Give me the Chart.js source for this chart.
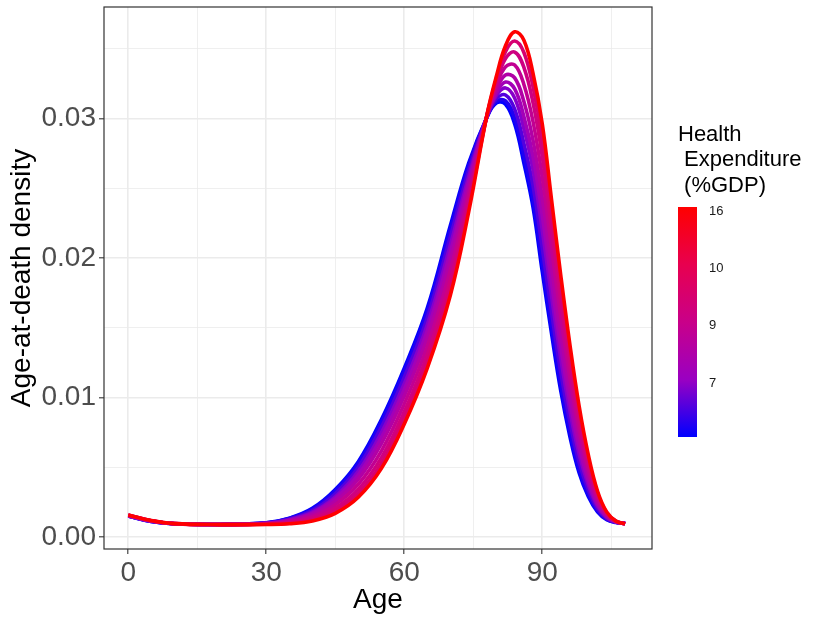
<!DOCTYPE html>
<html>
<head>
<meta charset="utf-8">
<script src="https://cdn.jsdelivr.net/npm/chart.js@4.4.1/dist/chart.umd.min.js"></script>
<style>
  html, body { margin: 0; padding: 0; background: #ffffff; }
  #wrap { width: 830px; height: 625px; position: relative; }
</style>
</head>
<body>
<div id="wrap"><canvas id="densityChart"></canvas></div>
<script>
// --- data ---
const ages = [0, 5, 10, 20, 30, 35, 40, 45, 50, 55, 60, 65, 70, 74, 78, 80, 82, 84, 86, 88, 90, 92, 94, 96, 98, 100, 102, 104, 106, 108];

// health expenditure (%GDP) of each curve, low -> high
const healthExp = [5.6, 5.9, 6.4, 6.9, 7.5, 8.1, 8.8, 9.2, 9.5, 16.3];

const density01 = [.00150, .00112, .00095, .00090, .00102, .00135, .00205, .00340, .00540, .00840, .01210, .01640, .02230, .02680, .03010, .03110, .03100, .02960, .02680, .02360, .01900, .01460, .01050, .00720, .00460, .00290, .00180, .00124, .00104, .00098];
const density02 = [.00150, .00112, .00095, .00090, .00101, .00133, .00199, .00329, .00525, .00820, .01186, .01614, .02200, .02659, .03011, .03121, .03125, .03000, .02733, .02418, .01964, .01518, .01100, .00760, .00489, .00308, .00189, .00127, .00105, .00098];
const density03 = [.00151, .00113, .00095, .00090, .00100, .00128, .00189, .00310, .00500, .00786, .01146, .01571, .02150, .02624, .03013, .03140, .03167, .03066, .02821, .02514, .02070, .01614, .01183, .00826, .00537, .00338, .00204, .00133, .00106, .00097];
const density04 = [.00152, .00114, .00095, .00090, .00099, .00124, .00178, .00288, .00470, .00745, .01098, .01520, .02090, .02582, .03016, .03163, .03218, .03145, .02926, .02629, .02197, .01729, .01282, .00905, .00594, .00374, .00222, .00140, .00107, .00097];
const density05 = [.00153, .00114, .00095, .00090, .00097, .00119, .00170, .00275, .00445, .00711, .01058, .01477, .02040, .02547, .03018, .03182, .03260, .03211, .03014, .02725, .02303, .01825, .01365, .00971, .00642, .00404, .00237, .00145, .00108, .00096];
const density06 = [.00154, .00115, .00096, .00090, .00096, .00115, .00160, .00255, .00415, .00668, .01010, .01425, .01980, .02505, .03020, .03205, .03310, .03290, .03120, .02840, .02430, .01940, .01465, .01050, .00700, .00440, .00255, .00152, .00110, .00096];
const density07 = [.00155, .00116, .00096, .00089, .00094, .00109, .00147, .00232, .00378, .00616, .00954, .01365, .01910, .02456, .03023, .03232, .03369, .03382, .03243, .02974, .02578, .02074, .01581, .01142, .00767, .00482, .00276, .00160, .00111, .00095];
const density08 = [.00156, .00117, .00096, .00089, .00093, .00104, .00134, .00208, .00341, .00567, .00898, .01305, .01840, .02407, .03026, .03258, .03428, .03475, .03366, .03109, .02727, .02209, .01697, .01235, .00834, .00524, .00297, .00168, .00113, .00095];
const density09 = [.00157, .00117, .00096, .00089, .00091, .00099, .00124, .00188, .00310, .00525, .00850, .01253, .01780, .02365, .03028, .03281, .03478, .03554, .03472, .03224, .02854, .02324, .01797, .01314, .00892, .00560, .00315, .00174, .00114, .00094];
const density10 = [.00158, .00118, .00096, .00089, .00090, .00095, .00115, .00170, .00285, .00490, .00810, .01210, .01730, .02330, .03030, .03300, .03520, .03620, .03560, .03320, .02960, .02420, .01880, .01380, .00940, .00590, .00330, .00180, .00115, .00094];

const curves = [density01, density02, density03, density04, density05, density06, density07, density08, density09, density10];

// colour bar
const legendTitle = ['Health', ' Expenditure', ' (%GDP)'];
const legendBreaks = [7, 9, 10, 16];

// --- styling ---
const FONT = '"Liberation Sans", Arial, Helvetica, sans-serif';
Chart.defaults.font.family = FONT;

// blue -> red (Lab-like mid tones)
const gradientStops = [[0, [0, 0, 255]], [0.25, [154, 0, 194]], [0.5, [201, 0, 137]], [0.75, [232, 0, 79]], [1, [255, 0, 0]]];
// where each value sits on the colour bar (non-linear scale)
const barKnots = [[5.6, 0], [7, 0.235], [9, 0.484], [10, 0.733], [16, 0.98], [16.3, 1]];

function expToFraction(v) {
    for (let i = 1; i < barKnots.length; i++) {
        const [v0, p0] = barKnots[i - 1];
        const [v1, p1] = barKnots[i];
        if (v <= v1) return p0 + (p1 - p0) * Math.max(0, (v - v0) / (v1 - v0));
    }
    return 1;
}

function colourAt(p) {
    for (let i = 1; i < gradientStops.length; i++) {
        const [p0, c0] = gradientStops[i - 1];
        const [p1, c1] = gradientStops[i];
        if (p <= p1) {
            const t = (p - p0) / (p1 - p0);
            const c = c0.map((v, k) => Math.round(v + (c1[k] - v) * t));
            return `rgb(${c[0]},${c[1]},${c[2]})`;
        }
    }
    return 'rgb(255,0,0)';
}

// highest expenditure first so that it is painted on top
const datasets = curves.map((vals, i) => ({
    label: String(healthExp[i]),
    data: ages.map((a, k) => ({ x: a, y: vals[k] })),
    borderColor: colourAt(expToFraction(healthExp[i])),
    borderWidth: 3.6,
    pointRadius: 0,
    fill: false,
    tension: 0.4
})).reverse();

const panelBorder = {
    id: 'panelBorder',
    afterDatasetsDraw(chart) {
        const { ctx, chartArea: a } = chart;
        ctx.save();
        ctx.strokeStyle = '#333333';
        ctx.lineWidth = 1.2;
        ctx.strokeRect(a.left, a.top, a.right - a.left, a.bottom - a.top);
        ctx.restore();
    }
};

const colourBar = {
    id: 'colourBar',
    afterDraw(chart) {
        const c = chart.ctx;
        c.save();
        c.fillStyle = '#000000';
        c.font = `22px ${FONT}`;
        c.textAlign = 'left';
        c.textBaseline = 'alphabetic';
        legendTitle.forEach((line, i) => c.fillText(line, 678, 141 + i * 25.3));

        const bx = 678, bw = 19, top = 207, bottom = 437;
        const g = c.createLinearGradient(0, bottom, 0, top);
        gradientStops.forEach(([p, col]) => g.addColorStop(p, `rgb(${col.join(',')})`));
        c.fillStyle = g;
        c.fillRect(bx, top, bw, bottom - top);

        c.fillStyle = '#1a1a1a';
        c.font = `13px ${FONT}`;
        c.textBaseline = 'middle';
        legendBreaks.forEach(v => {
            const y = bottom - expToFraction(v) * (bottom - top);
            c.fillText(String(v), 709, y);
        });
        c.restore();
    }
};

const isMajorX = v => Math.round(v) % 30 === 0;
const isMajorY = v => Math.round(v * 1000) % 10 === 0;

new Chart(document.getElementById('densityChart'), {
    type: 'line',
    data: { datasets },
    plugins: [panelBorder, colourBar],
    options: {
        responsive: true,
        maintainAspectRatio: false,
        animation: false,
        layout: { padding: { left: 0, right: 178, top: 7, bottom: 0 } },
        plugins: { legend: { display: false }, tooltip: { enabled: false } },
        scales: {
            x: {
                type: 'linear',
                min: -5.28,
                max: 113.85,
                afterFit: s => { s.height = 76; s.paddingLeft = 0; s.paddingRight = 0; },
                border: { display: false },
                grid: {
                    color: '#EBEBEB',
                    lineWidth: ctx => isMajorX(ctx.tick.value) ? 1.6 : 0.8,
                    tickColor: ctx => isMajorX(ctx.tick.value) ? '#333333' : 'rgba(0,0,0,0)',
                    tickLength: 5,
                    tickWidth: 1.1
                },
                ticks: {
                    stepSize: 15,
                    includeBounds: false,
                    autoSkip: false,
                    maxRotation: 0,
                    padding: 2,
                    color: '#4D4D4D',
                    font: { size: 28 },
                    callback: v => isMajorX(v) ? String(v) : ''
                },
                title: { display: true, text: 'Age', color: '#000000', font: { size: 28 }, padding: { top: 0, bottom: 8 } }
            },
            y: {
                min: -0.00086,
                max: 0.03798,
                afterFit: s => { s.width = 104; s.paddingTop = 0; s.paddingBottom = 0; },
                border: { display: false },
                grid: {
                    color: '#EBEBEB',
                    lineWidth: ctx => isMajorY(ctx.tick.value) ? 1.6 : 0.8,
                    tickColor: ctx => isMajorY(ctx.tick.value) ? '#333333' : 'rgba(0,0,0,0)',
                    tickLength: 5,
                    tickWidth: 1.1
                },
                ticks: {
                    stepSize: 0.005,
                    includeBounds: false,
                    autoSkip: false,
                    padding: 3,
                    color: '#4D4D4D',
                    font: { size: 28 },
                    callback: v => isMajorY(v) ? v.toFixed(2) : ''
                },
                title: { display: true, text: 'Age-at-death density', color: '#000000', font: { size: 28 }, padding: { top: 5, bottom: 0 } }
            }
        }
    }
});
</script>
</body>
</html>
